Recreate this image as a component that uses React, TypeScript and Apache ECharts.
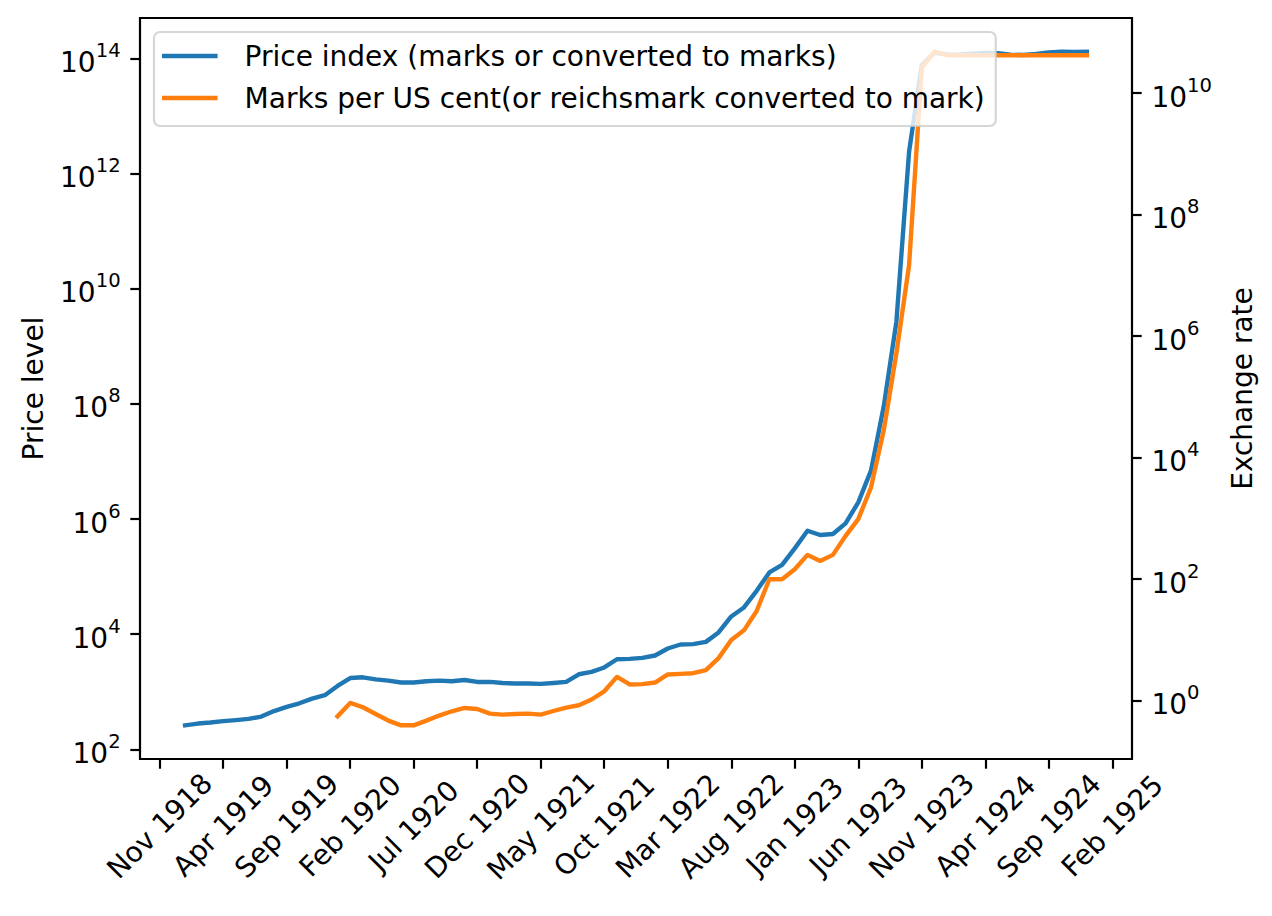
import * as echarts from 'echarts'
import React, { useEffect, useRef } from 'react'

// monthly observations, first one is Jan 1919
const FIRST_YEAR = 1919
const MONTH_NAMES = ['Jan', 'Feb', 'Mar', 'Apr', 'May', 'Jun', 'Jul', 'Aug', 'Sep', 'Oct', 'Nov', 'Dec']

// wholesale price index, Jan 1919 .. Dec 1924
const priceIndex = [
  261, 280, 292, 308, 322, 337, 370, 462, 545, 630, 760, 870,
  1260, 1730, 1780, 1640, 1560, 1445, 1445, 1520, 1560, 1520, 1600, 1480,
  1480, 1420, 1390, 1390, 1370, 1420, 1480, 2010, 2210, 2640, 3670, 3720,
  3870, 4260, 5640, 6620, 6700, 7350, 10700, 20300, 29100, 56600, 118000, 160000,
  309000, 626000, 527000, 548000, 841000, 1.95e6, 6.92e6, 8.9e7, 2.67e9, 2.4e12, 7.6e13, 1.26e14,
  1.17e14, 1.16e14, 1.21e14, 1.24e14, 1.23e14, 1.16e14, 1.15e14, 1.2e14, 1.27e14, 1.31e14, 1.3e14, 1.31e14
]

// marks per US cent, Jan 1920 .. Dec 1924
const exchangeStart = 12
const marksPerCent = [
  0.551, 0.913, 0.775, 0.601, 0.468, 0.391, 0.391, 0.468, 0.566, 0.666, 0.755, 0.727,
  0.61, 0.587, 0.601, 0.61, 0.587, 0.673, 0.766, 0.836, 1.04, 1.42, 2.45, 1.84,
  1.86, 1.98, 2.69, 2.75, 2.82, 3.16, 4.99, 9.89, 14.3, 29.8, 99.3, 99.3,
  145, 250, 199, 250, 514, 970, 3220, 27800, 5.18e5, 1.47e7, 2.63e10, 4.8e10,
  4.2e10, 4.2e10, 4.2e10, 4.2e10, 4.2e10, 4.2e10, 4.2e10, 4.2e10, 4.2e10, 4.2e10, 4.2e10, 4.2e10
]

const xTickLabels = [
  'Nov 1918', 'Apr 1919', 'Sep 1919', 'Feb 1920', 'Jul 1920', 'Dec 1920', 'May 1921', 'Oct 1921',
  'Mar 1922', 'Aug 1922', 'Jan 1923', 'Jun 1923', 'Nov 1923', 'Apr 1924', 'Sep 1924', 'Feb 1925'
]
const priceTickExps = [2, 4, 6, 8, 10, 12, 14]
const rateTickExps = [0, 2, 4, 6, 8, 10]

const FONT = 'DejaVu Sans'
const FS = 28

const monthIndex = (label: string) => {
  const [m, y] = label.split(' ')
  return (Number(y) - FIRST_YEAR) * 12 + MONTH_NAMES.indexOf(m)
}

// matplotlib style autoscale: 5% margin on each side
const padded = (vals: number[]) => {
  const lo = Math.min(...vals)
  const hi = Math.max(...vals)
  const p = (hi - lo) * 0.05
  return [lo - p, hi + p]
}

const App: React.FC = () => {
  const chartRef = useRef<HTMLDivElement>(null)

  useEffect(() => {
    const chart = echarts.init(chartRef.current!, null, { renderer: 'svg' })

    const priceData = priceIndex.map((v, i) => [i, Math.log10(v)])
    const rateData = marksPerCent.map((v, i) => [i + exchangeStart, Math.log10(v)])
    const xExt = padded([0, priceIndex.length - 1])
    const yLeft = padded(priceData.map((d) => d[1]))
    const yRight = padded(rateData.map((d) => d[1]))
    const xTickValues = xTickLabels.map(monthIndex)

    const powRich = {
      b: { fontSize: FS, fontFamily: FONT, color: '#000', padding: [8, 0, 0, 0] },
      s: { fontSize: 19.6, fontFamily: FONT, color: '#000', verticalAlign: 'top' }
    }
    const tick = { show: true, length: 9.7, lineStyle: { color: '#000', width: 2.2 } }
    const line = { show: false, onZero: false }

    chart.setOption({
      animation: false,
      backgroundColor: '#fff',
      grid: {
        left: 140,
        right: 140,
        top: 18,
        bottom: 157,
        show: true,
        borderColor: '#000',
        borderWidth: 2.2,
        outerBoundsMode: 'none'
      },
      legend: {
        left: 154,
        top: 32,
        orient: 'vertical',
        icon: 'rect',
        padding: [10, 11, 14, 8],
        itemGap: 14,
        itemWidth: 55.6,
        itemHeight: 4.4,
        backgroundColor: 'rgba(255,255,255,0.8)',
        borderColor: 'rgba(204,204,204,0.8)',
        borderWidth: 2.2,
        borderRadius: 6,
        textStyle: { fontSize: FS, fontFamily: FONT, color: '#000', padding: [0, 0, 0, 22] }
      },
      xAxis: {
        type: 'value',
        min: xExt[0],
        max: xExt[1],
        axisLine: line,
        splitLine: { show: false },
        axisTick: { ...tick, customValues: xTickValues },
        axisLabel: {
          customValues: xTickValues,
          rotate: 45,
          align: 'center',
          verticalAlign: 'middle',
          margin: 67,
          fontSize: FS,
          fontFamily: FONT,
          color: '#000',
          formatter: (v: number) => xTickLabels[xTickValues.indexOf(Math.round(v))] ?? ''
        }
      },
      yAxis: [
        {
          type: 'value',
          position: 'left',
          min: yLeft[0],
          max: yLeft[1],
          name: 'Price level',
          nameLocation: 'middle',
          nameRotate: 90,
          nameGap: 93,
          nameTextStyle: { fontSize: FS, fontFamily: FONT, color: '#000' },
          axisLine: line,
          splitLine: { show: false },
          axisTick: { ...tick, customValues: priceTickExps },
          axisLabel: {
            customValues: priceTickExps,
            margin: 19.4,
            formatter: (v: number) => `{b|10}{s|${Math.round(v)}}`,
            rich: powRich
          }
        },
        {
          type: 'value',
          position: 'right',
          min: yRight[0],
          max: yRight[1],
          name: 'Exchange rate',
          nameLocation: 'middle',
          nameRotate: 90,
          nameGap: 96,
          nameTextStyle: { fontSize: FS, fontFamily: FONT, color: '#000' },
          axisLine: line,
          splitLine: { show: false },
          axisTick: { ...tick, customValues: rateTickExps },
          axisLabel: {
            customValues: rateTickExps,
            margin: 19.4,
            formatter: (v: number) => `{b|10}{s|${Math.round(v)}}`,
            rich: powRich
          }
        }
      ],
      series: [
        {
          name: 'Price index (marks or converted to marks)',
          type: 'line',
          yAxisIndex: 0,
          data: priceData,
          symbol: 'none',
          color: '#1f77b4',
          lineStyle: { width: 4.4, color: '#1f77b4', cap: 'square', join: 'round' }
        },
        {
          name: 'Marks per US cent(or reichsmark converted to mark)',
          type: 'line',
          yAxisIndex: 1,
          data: rateData,
          symbol: 'none',
          color: '#ff7f0e',
          lineStyle: { width: 4.4, color: '#ff7f0e', cap: 'square', join: 'round' }
        }
      ]
    })

    return () => {
      chart.dispose()
    }
  }, [])

  return (
    <div
      ref={chartRef}
      style={{ position: 'absolute', left: 0, top: 0, width: 1272, height: 916 }}
    />
  )
}

export default App
